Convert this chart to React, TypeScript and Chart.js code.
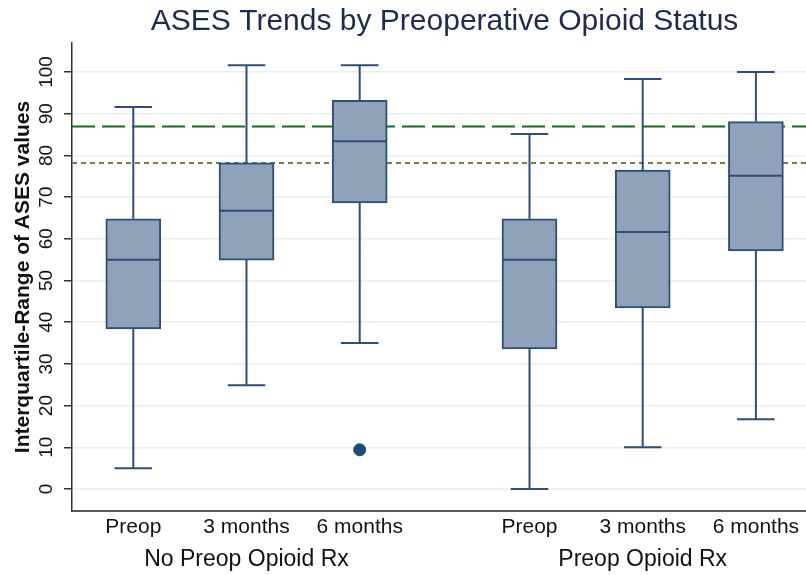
import React, { useEffect, useRef } from "react";
import { Chart, registerables } from "chart.js";

Chart.register(...registerables);

const categories = ["Preop", "3 months", "6 months", "Preop", "3 months", "6 months"];
const groupLabels = ["No Preop Opioid Rx", "Preop Opioid Rx"];
const xPositions = [1, 2, 3, 4.5, 5.5, 6.5];
const groupPositions = [2, 5.5];

const whiskerLow = [5.0, 24.9, 35.0, 0.0, 10.0, 16.7];
const q1 = [38.4, 54.9, 68.6, 33.6, 43.4, 57.1];
const median = [55.0, 66.7, 83.4, 55.0, 61.6, 75.1];
const q3 = [64.8, 78.2, 93.2, 64.8, 76.5, 88.1];
const whiskerHigh = [91.6, 101.6, 101.6, 85.1, 98.3, 100.0];
const outlierCategory = [2];
const outlierValue = [9.4];

const refLongDash = 86.9;
const refShortDash = 78.2;

const yTicks = [0, 10, 20, 30, 40, 50, 60, 70, 80, 90, 100];

const X_MIN = 0.4585;
const X_MAX = 7.0415;
const Y_MIN = -5.28;
const Y_MAX = 106.95;

const FONT = "'Liberation Sans', Arial, Helvetica, sans-serif";
const BOX_FILL = "#8ea3b9";
const BOX_LINE = "#2d4e78";

export default function App() {
  const ref = useRef<HTMLCanvasElement | null>(null);

  useEffect(() => {
    if (!ref.current) return;
    const capHalf = 0.166;
    const medHalf = 0.236;

    const boxes = xPositions.map((x, i) => ({ x, y: [q1[i], q3[i]] }));
    const whiskers: any[] = [];
    xPositions.forEach((x, i) => {
      whiskers.push({ x, y: q3[i] }, { x, y: whiskerHigh[i] }, { x, y: null });
      whiskers.push({ x, y: q1[i] }, { x, y: whiskerLow[i] }, { x, y: null });
      whiskers.push({ x: x - capHalf, y: whiskerHigh[i] }, { x: x + capHalf, y: whiskerHigh[i] }, { x, y: null });
      whiskers.push({ x: x - capHalf, y: whiskerLow[i] }, { x: x + capHalf, y: whiskerLow[i] }, { x, y: null });
    });
    const medians: any[] = [];
    xPositions.forEach((x, i) => {
      medians.push({ x: x - medHalf, y: median[i] }, { x: x + medHalf, y: median[i] }, { x, y: null });
    });
    const outliers = outlierCategory.map((c, i) => ({ x: xPositions[c], y: outlierValue[i] }));

    const yTickLabels = {
      id: "yTickLabels",
      afterDraw(chart: any) {
        const ys = chart.scales.y;
        const ctx = chart.ctx;
        ctx.save();
        ctx.font = `19px ${FONT}`;
        ctx.fillStyle = "#111";
        ctx.textAlign = "center";
        ctx.textBaseline = "middle";
        ys.ticks.forEach((t: any) => {
          const py = ys.getPixelForValue(t.value);
          ctx.save();
          ctx.translate(ys.right - 25, py);
          ctx.rotate(-Math.PI / 2);
          ctx.fillText(String(t.value), 0, 0);
          ctx.restore();
        });
        ctx.restore();
      },
    };

    const chart = new Chart(ref.current, {
      type: "bar",
      data: {
        datasets: [
          {
            type: "line",
            data: [
              { x: X_MIN, y: refLongDash },
              { x: X_MAX, y: refLongDash },
            ],
            borderColor: "#1b6a1b",
            borderWidth: 2,
            borderDash: [23, 7],
            pointRadius: 0,
            order: 5,
          } as any,
          {
            type: "line",
            data: [
              { x: X_MIN, y: refShortDash },
              { x: X_MAX, y: refShortDash },
            ],
            borderColor: "#6f7f48",
            borderWidth: 2,
            borderDash: [5, 4],
            pointRadius: 0,
            order: 5,
          } as any,
          {
            type: "line",
            data: whiskers,
            borderColor: BOX_LINE,
            borderWidth: 2,
            pointRadius: 0,
            spanGaps: false,
            order: 4,
          } as any,
          {
            type: "bar",
            data: boxes as any,
            backgroundColor: BOX_FILL,
            borderColor: BOX_LINE,
            borderWidth: 2,
            borderSkipped: false,
            barThickness: 55,
            order: 3,
          } as any,
          {
            type: "line",
            data: medians,
            borderColor: BOX_LINE,
            borderWidth: 2,
            pointRadius: 0,
            spanGaps: false,
            order: 2,
          } as any,
          {
            type: "scatter",
            data: outliers,
            backgroundColor: "#1d4a78",
            borderColor: "#1d4a78",
            pointRadius: 6,
            order: 1,
          } as any,
        ],
      },
      options: {
        animation: false,
        responsive: false,
        devicePixelRatio: 1,
        layout: { padding: { left: 0, right: 12.8, top: 0, bottom: 0 } },
        plugins: {
          legend: { display: false },
          tooltip: { enabled: false },
          title: {
            display: true,
            text: "ASES Trends by Preoperative Opioid Status",
            fullSize: false,
            color: "#1b2b52",
            font: { family: FONT, size: 30, weight: "normal" },
            padding: { top: 4, bottom: 3 },
          } as any,
        },
        scales: {
          x: {
            type: "linear",
            position: "bottom",
            offset: false,
            min: X_MIN,
            max: X_MAX,
            afterBuildTicks: (s: any) => {
              s.ticks = xPositions.map((v) => ({ value: v }));
            },
            afterFit: (s: any) => {
              s.height = 30;
            },
            ticks: {
              autoSkip: false,
              maxRotation: 0,
              padding: 4,
              color: "#111",
              font: { family: FONT, size: 21 },
              callback: (v: any, i: number) => categories[i],
            },
            grid: { display: false, drawTicks: false, offset: false },
            border: { display: true, color: "#555", width: 2 },
          },
          x2: {
            type: "linear",
            position: "bottom",
            offset: false,
            min: X_MIN,
            max: X_MAX,
            afterBuildTicks: (s: any) => {
              s.ticks = groupPositions.map((v) => ({ value: v }));
            },
            afterFit: (s: any) => {
              s.height = 34;
            },
            ticks: {
              autoSkip: false,
              maxRotation: 0,
              padding: 5,
              color: "#111",
              font: { family: FONT, size: 23 },
              callback: (v: any, i: number) => groupLabels[i],
            },
            grid: { display: false, drawTicks: false, offset: false },
            border: { display: false },
          },
          y: {
            type: "linear",
            min: Y_MIN,
            max: Y_MAX,
            afterBuildTicks: (s: any) => {
              s.ticks = yTicks.map((v) => ({ value: v }));
            },
            afterFit: (s: any) => {
              s.width = 72;
            },
            ticks: { display: false },
            grid: {
              color: "#e8eef3",
              lineWidth: 1.5,
              tickLength: 8,
              tickColor: "#333",
              tickWidth: 1.5,
            } as any,
            border: { display: true, color: "#333", width: 1.5 },
            title: {
              display: true,
              text: "Interquartile-Range of ASES values",
              color: "#111",
              font: { family: FONT, size: 21, weight: "bold" },
              padding: { top: 11, bottom: 0 },
            },
          },
        },
      },
      plugins: [yTickLabels],
    });
    return () => chart.destroy();
  }, []);

  return (
    <div
      style={{
        position: "absolute",
        left: 0,
        top: 0,
        width: 806,
        height: 575,
        overflow: "hidden",
        background: "#fff",
      }}
    >
      <canvas ref={ref} width={830} height={575} style={{ display: "block" }} />
    </div>
  );
}
